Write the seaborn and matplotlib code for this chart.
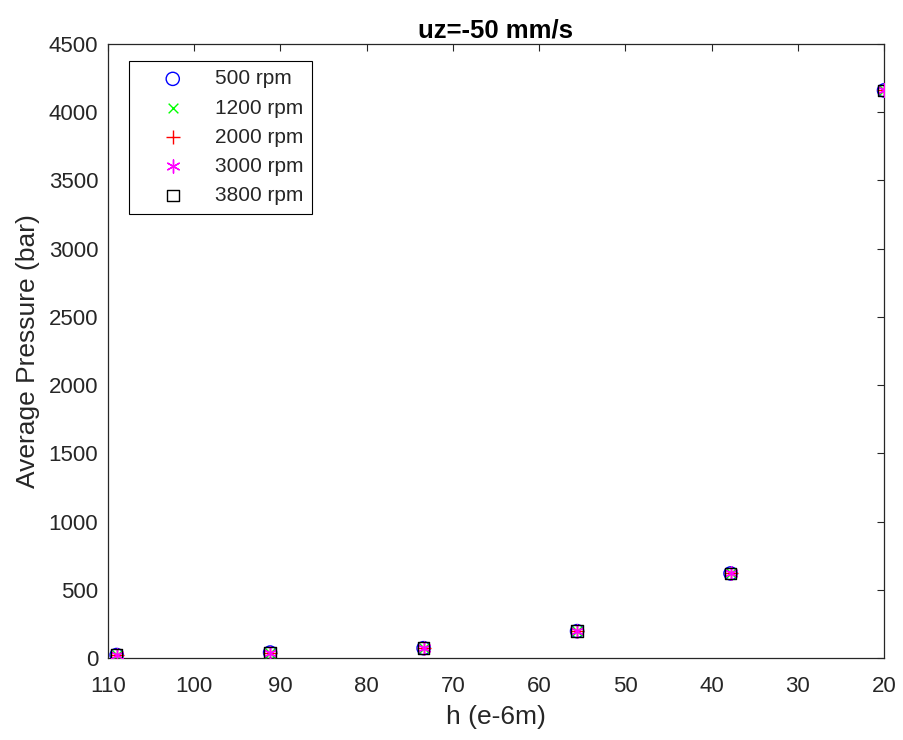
import matplotlib
matplotlib.use("Agg")
import matplotlib.pyplot as plt
import seaborn as sns
import pandas as pd

# ---- data ----
h_um = [109.0, 91.2, 73.4, 55.6, 37.8, 20.0]
p_500 = [22, 40, 72, 197, 620, 4160]
p_1200 = [22, 40, 72, 197, 620, 4160]
p_2000 = [22, 40, 72, 197, 620, 4160]
p_3000 = [22, 40, 72, 197, 620, 4160]
p_3800 = [22, 40, 72, 197, 620, 4160]
series_labels = ["500 rpm", "1200 rpm", "2000 rpm", "3000 rpm", "3800 rpm"]
series_values = [p_500, p_1200, p_2000, p_3000, p_3800]
x_ticks = [20, 30, 40, 50, 60, 70, 80, 90, 100, 110]
y_ticks = [0, 500, 1000, 1500, 2000, 2500, 3000, 3500, 4000, 4500]
title = "uz=-50 mm/s"
xlabel = "h (e-6m)"
ylabel = "Average Pressure (bar)"

sns.set_style("white")
plt.rcParams["font.family"] = ["Liberation Sans", "DejaVu Sans"]
axc = (0.15, 0.15, 0.15)

fig = plt.figure(figsize=(9.04, 7.4), dpi=100)
ax = fig.add_axes([108 / 904, 1 - 658 / 740, (884 - 108) / 904, (658 - 44) / 740])

styles = [
    dict(marker="o", facecolors="none", edgecolor=(0, 0, 1), s=9.5 ** 2),
    dict(marker="x", color=(0, 1, 0), s=7.0 ** 2),
    dict(marker="+", color=(1, 0, 0), s=9.5 ** 2),
    dict(marker=(6, 2, 0), color=(1, 0, 1), s=9.5 ** 2),
    dict(marker="s", facecolors="none", edgecolor=(0, 0, 0), s=8.3 ** 2),
]

for lab, vals, st in zip(series_labels, series_values, styles):
    df = pd.DataFrame({"h": h_um, "p": vals})
    sns.scatterplot(data=df, x="h", y="p", ax=ax, label=lab, linewidths=1.0, zorder=3, **st)

ax.set_xlim(110, 20)
ax.set_ylim(0, 4500)
ax.set_xticks(x_ticks)
ax.set_yticks(y_ticks)

for sp in ax.spines.values():
    sp.set_visible(True)
    sp.set_color(axc)
    sp.set_linewidth(0.9)

ax.tick_params(axis="both", direction="in", length=5, width=0.8, colors=axc,
               labelsize=16, top=True, right=True, labelcolor=axc)
ax.tick_params(axis="x", pad=13)
ax.tick_params(axis="y", pad=7)

ax.set_xlabel(xlabel, fontsize=19, color=axc, labelpad=6)
ax.set_ylabel(ylabel, fontsize=19, color=axc, labelpad=6)
ax.set_title(title, fontsize=18.5, fontweight="bold", color="black", pad=5)

leg = ax.legend(loc="upper left", bbox_to_anchor=(129 / 904, 1 - 61 / 740),
                bbox_transform=fig.transFigure, borderaxespad=0,
                fontsize=15, frameon=True, fancybox=False, framealpha=1,
                borderpad=0.4, handlelength=3.4, handletextpad=0.32,
                labelspacing=0.49)
leg.get_frame().set_edgecolor("black")
leg.get_frame().set_linewidth(0.8)
for t in leg.get_texts():
    t.set_color(axc)

fig.savefig("out.png", dpi=100)
